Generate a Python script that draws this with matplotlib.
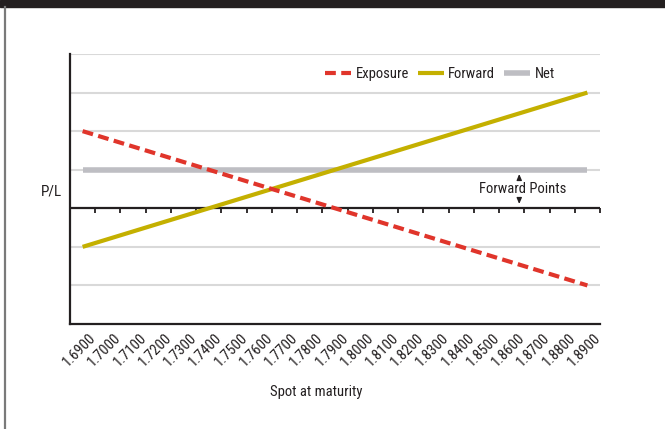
import matplotlib
matplotlib.use("Agg")
import matplotlib.pyplot as plt
from matplotlib import markers
from matplotlib.patches import Rectangle
from matplotlib.lines import Line2D
import matplotlib.transforms as mtransforms

plt.rcParams['font.family'] = ['Roboto Condensed', 'Archivo Narrow', 'Sofia Sans Condensed', 'DejaVu Sans']

# Spot rates at maturity (category axis)
spot_labels = ["1.6900", "1.7000", "1.7100", "1.7200", "1.7300", "1.7400", "1.7500",
               "1.7600", "1.7700", "1.7800", "1.7900", "1.8000", "1.8100", "1.8200",
               "1.8300", "1.8400", "1.8500", "1.8600", "1.8700", "1.8800", "1.8900"]

# P/L profiles
exposure = [2.0, 1.8, 1.6, 1.4, 1.2, 1.0, 0.8, 0.6, 0.4, 0.2, 0.0,
            -0.2, -0.4, -0.6, -0.8, -1.0, -1.2, -1.4, -1.6, -1.8, -2.0]
forward = [-1.0, -0.8, -0.6, -0.4, -0.2, 0.0, 0.2, 0.4, 0.6, 0.8, 1.0,
           1.2, 1.4, 1.6, 1.8, 2.0, 2.2, 2.4, 2.6, 2.8, 3.0]
net = [1.0] * 21

grid_levels = [-2, -1, 1, 2, 3, 4]

RED = "#e0352b"
OLIVE = "#c4b000"
GREY = "#bebec3"
DARK = "#231f20"

fig = plt.figure(figsize=(6.65, 4.29), dpi=100)
ax = fig.add_axes([70/665, 1 - 324/429, 530/665, 270/429])

# frame decorations
fig.patches.append(Rectangle((0, 1 - 7/429), 1, 7/429, transform=fig.transFigure,
                             color=DARK, zorder=0))
fig.lines.append(Line2D([5/665, 5/665], [0, 1 - 7/429], transform=fig.transFigure,
                        color="#7a7a7a", lw=1.6))

x = list(range(len(spot_labels)))
ax.set_xlim(-0.5, len(spot_labels) - 0.5)
ax.set_ylim(-3, 4)

for g in grid_levels:
    ax.axhline(g, color="#d9d9d9", lw=1.5, zorder=1)

# zero axis with tick marks at category boundaries
bounds = [i - 0.5 for i in range(len(spot_labels) + 1)]
ax.axhline(0, color=DARK, lw=1.6, zorder=2)
ax.plot(bounds, [0] * len(bounds), linestyle="none", marker=markers.TICKDOWN,
        markersize=3.5, markeredgewidth=1.3, color=DARK, zorder=2)

ax.plot(x, net, color=GREY, lw=4, solid_capstyle="butt", label="Net", zorder=3)
ax.plot(x, forward, color=OLIVE, lw=3, solid_capstyle="butt", label="Forward", zorder=4)
ax.plot(x, exposure, color=RED, lw=3, linestyle=(0, (2.6, 1.3)), label="Exposure", zorder=5)

for s in ["top", "right"]:
    ax.spines[s].set_visible(False)
for s in ["left", "bottom"]:
    ax.spines[s].set_color(DARK)
    ax.spines[s].set_linewidth(1.6)

ax.set_yticks([])
ax.set_xticks(x)
ax.set_xticklabels(spot_labels, rotation=45, ha="right", va="top",
                   rotation_mode="anchor", fontsize=10.5, color=DARK)
ax.tick_params(axis="x", length=0, pad=4)
offset = mtransforms.ScaledTranslation(6/100, -1/100, fig.dpi_scale_trans)
for lbl in ax.get_xticklabels():
    lbl.set_transform(lbl.get_transform() + offset)

ax.set_xlabel("Spot at maturity", fontsize=10.5, color=DARK, va="center")
ax.xaxis.set_label_coords((316 - 70) / 530, (324 - 392) / 270)
fig.text(51/665, 1 - 192/429, "P/L", fontsize=11, color=DARK, ha="center", va="center")

# forward points marker
ax.annotate("", xy=(17.3, 0.96), xytext=(17.3, 0.68),
            arrowprops=dict(arrowstyle="-|>,head_length=0.35,head_width=0.15",
                            color=DARK, lw=0.9))
ax.annotate("", xy=(17.3, 0.04), xytext=(17.3, 0.32),
            arrowprops=dict(arrowstyle="-|>,head_length=0.35,head_width=0.15",
                            color=DARK, lw=0.9))
ax.text(17.45, 0.49, "Forward Points", fontsize=10.5, color=DARK, ha="center", va="center")

handles, labels = ax.get_legend_handles_labels()
order = [2, 1, 0]
fig.legend([handles[i] for i in order], [labels[i] for i in order],
           loc="center", bbox_to_anchor=(440/665, 1 - 74/429), ncol=3,
           frameon=False, fontsize=10.5, handlelength=1.8, handletextpad=0.3,
           columnspacing=0.6, labelcolor=DARK)

fig.savefig("out.png", dpi=100, facecolor="white")
